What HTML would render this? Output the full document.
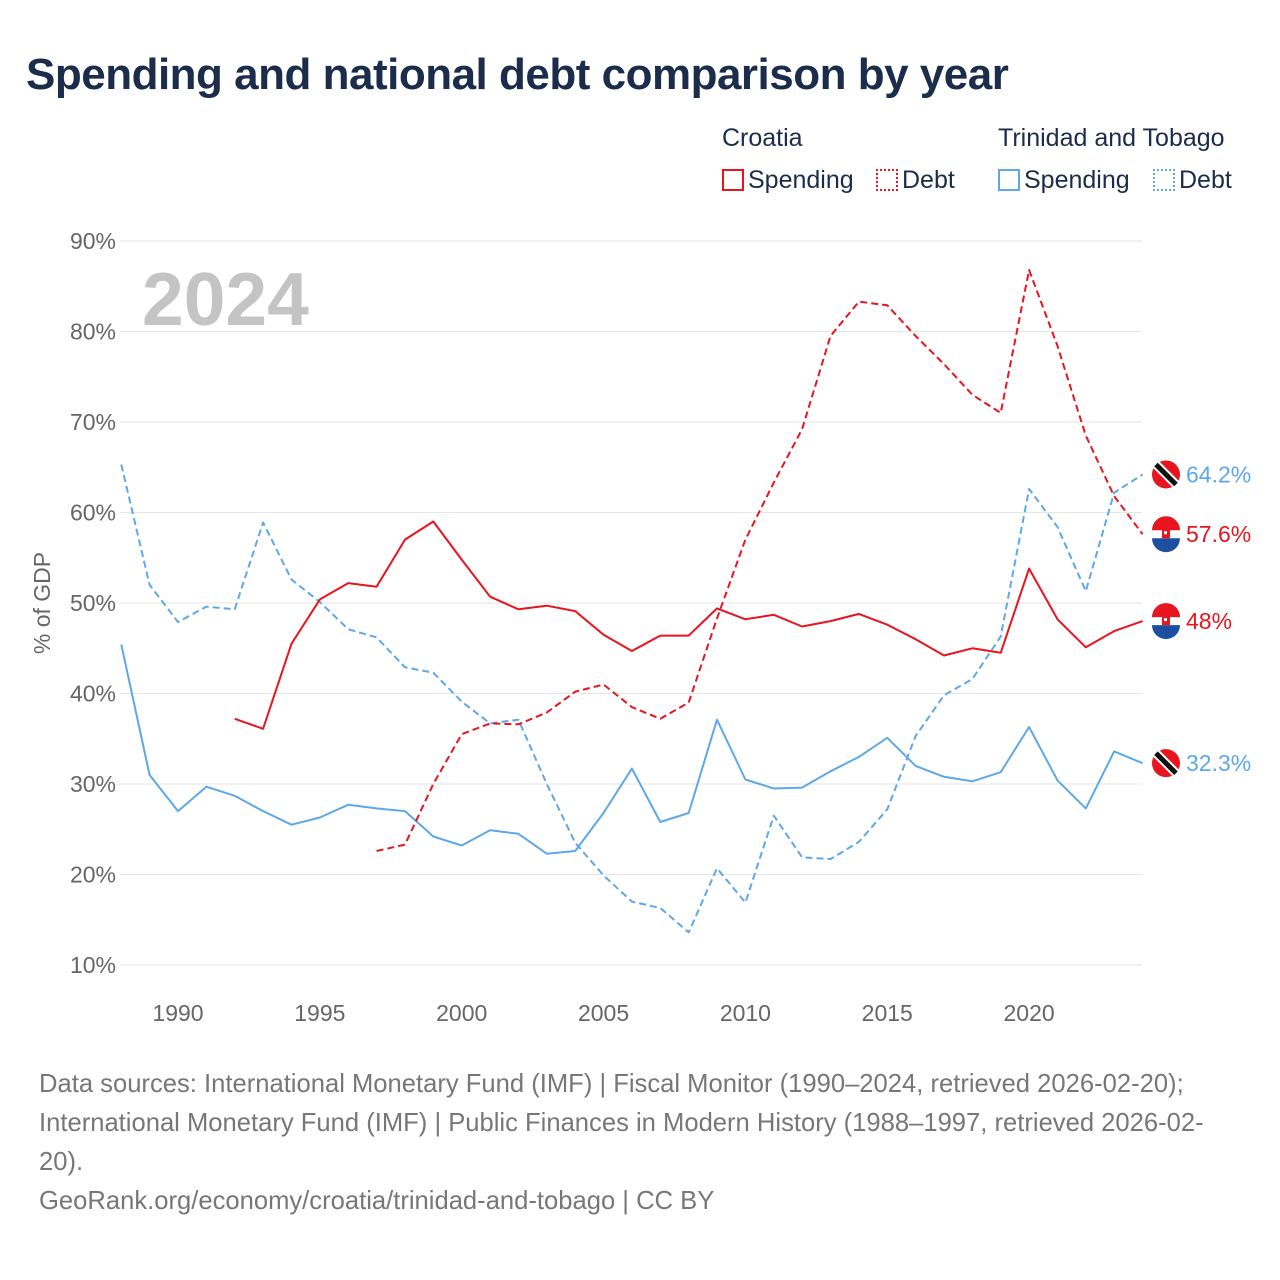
<!DOCTYPE html>
<html><head><meta charset="utf-8">
<style>
body{margin:0;width:1280px;height:1280px;background:#fff;font-family:"Liberation Sans",sans-serif;position:relative;overflow:hidden}
h1{position:absolute;left:26px;top:50px;margin:0;font-size:44px;font-weight:bold;color:#1b2d4a;letter-spacing:-0.5px}
.lg{position:absolute;font-size:25px;color:#1b2d4a}
.sw{display:inline-block;width:22px;height:22px;vertical-align:-3px;margin-right:4px;box-sizing:border-box}
.foot{position:absolute;left:39px;top:1065px;width:1190px;font-size:25.6px;line-height:39px;color:#777}
</style></head><body>
<h1>Spending and national debt comparison by year</h1>
<div class="lg" style="left:722px;top:124px">Croatia</div>
<div class="lg" style="left:998px;top:124px">Trinidad and Tobago</div>
<div class="lg" style="left:722px;top:166px"><span class="sw" style="border:2px solid #e8141e"></span>Spending</div>
<div class="lg" style="left:876px;top:166px"><span class="sw" style="border:2px dotted #e8141e"></span>Debt</div>
<div class="lg" style="left:998px;top:166px"><span class="sw" style="border:2px solid #5ea8e8"></span>Spending</div>
<div class="lg" style="left:1153px;top:166px"><span class="sw" style="border:2px dotted #5ea8e8"></span>Debt</div>
<svg id="chart" width="1280" height="1060" style="position:absolute;left:0;top:0"></svg>
<div class="foot">Data sources: International Monetary Fund (IMF) | Fiscal Monitor (1990–2024, retrieved 2026-02-20); International Monetary Fund (IMF) | Public Finances in Modern History (1988–1997, retrieved 2026-02-20).<br>GeoRank.org/economy/croatia/trinidad-and-tobago | CC BY</div>
<script>
const yTicks=[10,20,30,40,50,60,70,80,90];
const xTicks=[1990,1995,2000,2005,2010,2015,2020];
const hrSpendStart=1992;
const hrSpending=[37.2,36.1,45.5,50.4,52.2,51.8,57.0,59.0,54.8,50.7,49.3,49.7,49.1,46.5,44.7,46.4,46.4,49.4,48.2,48.7,47.4,48.0,48.8,47.6,46.0,44.2,45.0,44.5,53.8,48.2,45.1,46.9,48.0];
const hrDebtStart=1997;
const hrDebt=[22.6,23.3,30.0,35.5,36.7,36.6,37.9,40.2,41.0,38.5,37.2,39.0,48.3,57.0,63.3,69.2,79.5,83.3,82.9,79.5,76.4,73.0,71.0,86.8,78.4,68.5,61.8,57.6];
const ttStart=1988;
const ttSpending=[45.4,31.0,27.0,29.7,28.7,27.0,25.5,26.3,27.7,27.3,27.0,24.2,23.2,24.9,24.5,22.3,22.6,26.8,31.7,25.8,26.8,37.1,30.5,29.5,29.6,31.4,33.0,35.1,32.0,30.8,30.3,31.3,36.3,30.4,27.3,33.6,32.3];
const ttDebt=[65.3,52.0,47.9,49.6,49.3,58.9,52.6,50.1,47.1,46.2,42.9,42.3,39.1,36.7,37.1,30.0,23.5,19.9,17.0,16.3,13.6,20.7,16.9,26.5,21.9,21.7,23.6,27.2,35.3,39.8,41.6,46.3,62.6,58.4,51.3,62.2,64.2];
const X=y=>178+(y-1990)*28.37;
const Y=v=>965-(v-10)*9.05;
const svg=document.getElementById('chart');
const NS='http://www.w3.org/2000/svg';
function mk(t,a){const e=document.createElementNS(NS,t);for(const k in a)e.setAttribute(k,a[k]);svg.appendChild(e);return e;}
yTicks.forEach(v=>{
 const l=mk('line',{x1:120,x2:1142,y1:Y(v),y2:Y(v),stroke:'#e6e6e6','stroke-width':1});
 
 
 const t=mk('text',{x:116,y:Y(v)+8,'text-anchor':'end','font-size':23,fill:'#666','font-family':'Liberation Sans'});
 t.textContent=v+'%';
 
 
});
xTicks.forEach(y=>{
 const t=mk('text',{x:X(y),y:1021,'text-anchor':'middle','font-size':23,fill:'#666','font-family':'Liberation Sans'});
 t.textContent=y;
 
 
});
const yt=mk('text',{x:50,y:603,'text-anchor':'middle','font-size':23,fill:'#666','font-family':'Liberation Sans',transform:'rotate(-90 50 603)'});
yt.textContent='% of GDP';


const yr=mk('text',{x:142,y:325,'font-size':75,'font-weight':'bold',fill:'#c4c4c4','font-family':'Liberation Sans'});
yr.textContent='2024';


function series(arr,start,color,dash,name){
 const d=arr.map((v,i)=>(i?'L':'M')+X(start+i).toFixed(1)+','+Y(v).toFixed(1)).join(' ');
 const p=mk('path',{d:d,fill:'none',stroke:color,'stroke-width':2,'stroke-dasharray':dash?'7,4':'none','stroke-linejoin':'round'});
 
 
}
series(ttDebt,ttStart,'#5ea8e8',true,'tt-debt-line');
series(ttSpending,ttStart,'#5ea8e8',false,'tt-spending-line');
series(hrDebt,hrDebtStart,'#e8141e',true,'croatia-debt-line');
series(hrSpending,hrSpendStart,'#e8141e',false,'croatia-spending-line');
function endLabel(v,color,flag,name){
 const cx=1166,cy=Y(v);
 const g=document.createElementNS(NS,'g');svg.appendChild(g);
 
 
 const add=(t,a)=>{const e=document.createElementNS(NS,t);for(const k in a)e.setAttribute(k,a[k]);g.appendChild(e);return e;};
 if(flag==='tt'){
  add('circle',{cx:cx,cy:cy,r:14,fill:'#e8141e'});
  add('line',{x1:cx-10,y1:cy-10,x2:cx+10,y2:cy+10,stroke:'#fff','stroke-width':9});
  add('line',{x1:cx-10,y1:cy-10,x2:cx+10,y2:cy+10,stroke:'#111','stroke-width':5});
 }else{
  add('circle',{cx:cx,cy:cy,r:14,fill:'#fff'});
  add('path',{d:`M${cx-14},${cy-4} A14,14 0 0 1 ${cx+14},${cy-4} Z`,fill:'#e8141e'});
  add('path',{d:`M${cx-14},${cy+4} A14,14 0 0 0 ${cx+14},${cy+4} Z`,fill:'#1c4fa0'});
  add('rect',{x:cx-4,y:cy-5,width:8,height:9,fill:'#e8141e'});
  add('rect',{x:cx-2,y:cy-3,width:3,height:3,fill:'#fff'});
 }
 const t=mk('text',{x:1186,y:cy+8,'font-size':23,fill:color,'font-family':'Liberation Sans'});
 t.textContent=v+'%';
 
 
}
endLabel(ttDebt[ttDebt.length-1],'#5ea8e8','tt','tt-debt-end');
endLabel(hrDebt[hrDebt.length-1],'#e8141e','hr','croatia-debt-end');
endLabel(hrSpending[hrSpending.length-1],'#e8141e','hr','croatia-spending-end');
endLabel(ttSpending[ttSpending.length-1],'#5ea8e8','tt','tt-spending-end');
</script>
</body></html>
